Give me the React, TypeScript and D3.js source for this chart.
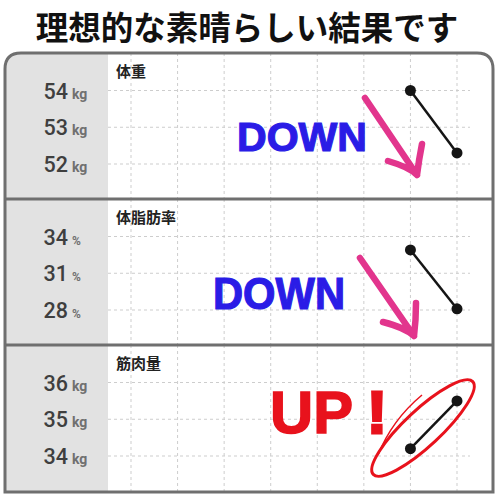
import * as d3 from 'd3'
import { useEffect, useRef } from 'react'

// x slots (measurement days); only the last two have readings
const slots = ['1', '2', '3', '4', '5', '6', '7', '8']
const readSlots = ['7', '8']

const panelNames = ['体重', '体脂肪率', '筋肉量']
const panelUnits = ['kg', '%', 'kg']
const weightTicks = [52, 53, 54]
const fatTicks = [28, 31, 34]
const muscleTicks = [34, 35, 36]
const weightValues = [54, 52.3]
const fatValues = [32.9, 28.1]
const muscleValues = [34.2, 35.5]

const W = 500
const H = 500

const App = () => {
  const ref = useRef<SVGSVGElement>(null)

  useEffect(() => {
    draw()
  }, [])

  const draw = () => {
    const svg = d3.select(ref.current)
    svg.selectAll('*').remove()

    const frame = { left: 5, right: 493, top: 53, bottom: 492, r: 16 }
    const axisW = 108
    const panelH = 146
    const gridRight = 470

    // title
    svg.append('text').attr('x', 247).attr('y', 40).attr('text-anchor', 'middle')
      .attr('font-family', '"Noto Sans CJK JP"').attr('font-weight', 700).attr('font-size', 32.5)
      .attr('fill', '#111').text('理想的な素晴らしい結果です')

    const framePath = `M${frame.left},${frame.bottom} L${frame.left},${frame.top + frame.r} Q${frame.left},${frame.top} ${frame.left + frame.r},${frame.top} L${frame.right - frame.r},${frame.top} Q${frame.right},${frame.top} ${frame.right},${frame.top + frame.r} L${frame.right},${frame.bottom} Z`
    svg.append('clipPath').attr('id', 'frameClip').append('path').attr('d', framePath)
    const body = svg.append('g').attr('clip-path', 'url(#frameClip)')
    body.append('rect').attr('x', 0).attr('y', 0).attr('width', W).attr('height', H).attr('fill', '#fff')
    body.append('rect').attr('x', 0).attr('y', 0).attr('width', axisW).attr('height', H).attr('fill', '#e2e2e2')

    const x = d3.scalePoint().domain(slots).range([131, 457])

    const panels = [
      { name: panelNames[0], unit: panelUnits[0], ticks: weightTicks, values: weightValues },
      { name: panelNames[1], unit: panelUnits[1], ticks: fatTicks, values: fatValues },
      { name: panelNames[2], unit: panelUnits[2], ticks: muscleTicks, values: muscleValues },
    ]

    panels.forEach((p, i) => {
      const top = frame.top + i * panelH
      const y = d3.scaleLinear().domain([d3.min(p.ticks) as number, d3.max(p.ticks) as number])
        .range([top + 111, top + 37.5])
      const g = body.append('g')
      // vertical grid
      g.selectAll('.vg').data(slots).enter().append('line')
        .attr('x1', d => x(d) as number).attr('x2', d => x(d) as number)
        .attr('y1', top).attr('y2', top + panelH)
        .attr('stroke', '#cdcdcd').attr('stroke-width', 1).attr('stroke-dasharray', '3,3')
      // horizontal grid
      g.selectAll('.hg').data(p.ticks).enter().append('line')
        .attr('x1', axisW).attr('x2', gridRight)
        .attr('y1', d => y(d)).attr('y2', d => y(d))
        .attr('stroke', '#cdcdcd').attr('stroke-width', 1).attr('stroke-dasharray', '3,3')
      // tick labels
      g.selectAll('.tl').data(p.ticks).enter().append('text')
        .attr('x', 68).attr('y', d => y(d) + 8).attr('text-anchor', 'end')
        .attr('font-family', 'Roboto, "Noto Sans"').attr('font-weight', 500).attr('font-size', 21.5).attr('fill', '#3f3f3f')
        .text(d => d)
      g.selectAll('.tu').data(p.ticks).enter().append('text')
        .attr('x', 72).attr('y', d => y(d) + 8)
        .attr('font-family', 'Roboto, "Noto Sans"').attr('font-weight', 700)
        .attr('font-size', p.unit === '%' ? 12 : 14).attr('fill', '#707070')
        .text(p.unit)
      // panel name
      g.append('text').attr('x', 116).attr('y', top + 24)
        .attr('font-family', '"Noto Sans CJK JP"').attr('font-weight', 700).attr('font-size', 15)
        .attr('fill', '#222').text(p.name)
      // data line
      const pts = p.values.map((v, k) => [x(readSlots[k]) as number, y(v)] as [number, number])
      g.append('path').attr('d', d3.line()(pts) as string)
        .attr('fill', 'none').attr('stroke', '#151515').attr('stroke-width', 2.5)
      g.selectAll('.pt').data(pts).enter().append('circle')
        .attr('cx', d => d[0]).attr('cy', d => d[1]).attr('r', 5.5).attr('fill', '#151515')
    })

    // panel separators
    ;[1, 2].forEach(i => {
      const yy = frame.top + i * panelH
      svg.append('line').attr('x1', frame.left).attr('x2', frame.right).attr('y1', yy).attr('y2', yy)
        .attr('stroke', '#6f6f6f').attr('stroke-width', 3)
    })
    svg.append('path').attr('d', framePath).attr('fill', 'none')
      .attr('stroke', '#6f6f6f').attr('stroke-width', 3)

    // annotations
    const blue = '#2a1ce6'
    svg.append('text').attr('x', 237).attr('y', 151).attr('textLength', 130).attr('lengthAdjust', 'spacingAndGlyphs')
      .attr('font-family', '"Liberation Sans"').attr('font-weight', 700).attr('font-size', 41)
      .attr('fill', blue).attr('stroke', blue).attr('stroke-width', 1.2).text('DOWN')
    svg.append('text').attr('x', 213).attr('y', 309).attr('textLength', 132).attr('lengthAdjust', 'spacingAndGlyphs')
      .attr('font-family', '"Liberation Sans"').attr('font-weight', 700).attr('font-size', 44)
      .attr('fill', blue).attr('stroke', blue).attr('stroke-width', 1.2).text('DOWN')

    const pink = '#e2358d'
    const arrows = [
      { s: [365, 98], t: [417, 175], l: [388, 161], r: [422, 144] },
      { s: [360, 258], t: [414, 336], l: [383, 322], r: [416, 303] },
    ]
    arrows.forEach(a => {
      svg.append('path')
        .attr('d', `M${a.s[0]},${a.s[1]} L${a.t[0]},${a.t[1]} M${a.l[0]},${a.l[1]} Q${a.t[0] - 8},${a.t[1] - 8} ${a.t[0]},${a.t[1]} Q${a.t[0] + 2},${a.t[1] - 16} ${a.r[0]},${a.r[1]}`)
        .attr('fill', 'none').attr('stroke', pink).attr('stroke-width', 6.5)
        .attr('stroke-linecap', 'round').attr('stroke-linejoin', 'round')
    })

    const red = '#e8121c'
    svg.append('text').attr('x', 270).attr('y', 433).attr('textLength', 83).attr('lengthAdjust', 'spacingAndGlyphs')
      .attr('font-family', '"Liberation Sans"').attr('font-weight', 700).attr('font-size', 60)
      .attr('fill', red).attr('stroke', red).attr('stroke-width', 1.5).text('UP')
    svg.append('text').attr('x', 377).attr('y', 433).attr('text-anchor', 'middle')
      .attr('font-family', '"Liberation Sans"').attr('font-weight', 700).attr('font-size', 60)
      .attr('fill', red).attr('stroke', red).attr('stroke-width', 3).text('!')
    svg.append('ellipse').attr('cx', 423).attr('cy', 428).attr('rx', 68).attr('ry', 18)
      .attr('transform', 'rotate(-43 423 428)')
      .attr('fill', 'none').attr('stroke', red).attr('stroke-width', 3)
    svg.append('path').attr('d', 'M378,455 Q392,420 422,395')
      .attr('fill', 'none').attr('stroke', red).attr('stroke-width', 1.5)
  }

  return (
    <svg ref={ref} width={W} height={H}
      style={{ position: 'absolute', left: 0, top: 0, background: '#fff' }} />
  )
}

export default App
